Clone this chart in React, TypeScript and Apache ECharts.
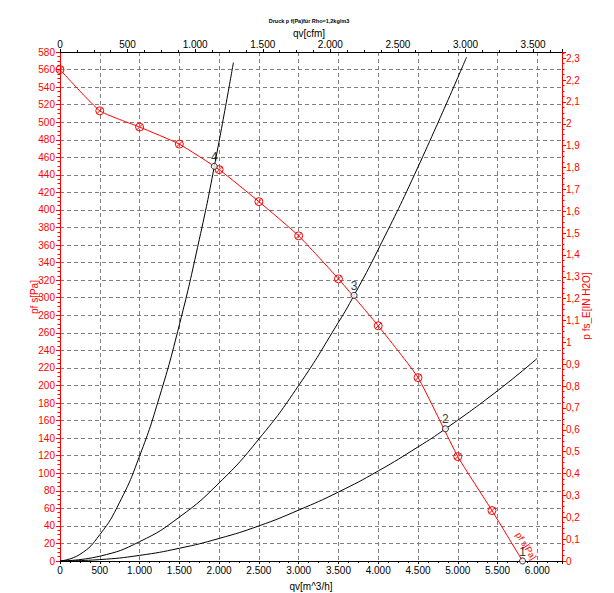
import React, { useEffect, useRef } from "react";
import * as echarts from "echarts";

// Fan curve (red): volume flow [m^3/h] and static pressure [Pa]
const fanQ = [0, 500, 1000, 1500, 2000, 2500, 3000, 3500, 4000, 4500, 5000, 5430, 5814];
const fanP = [560, 513, 494.5, 475, 446, 409.5, 370.5, 321.5, 268, 209, 119, 57.5, 0];

// System curves (black)
const sys4Q = [0, 250, 500, 750, 1000, 1250, 1500, 1750, 1940, 2180];
const sys4P = [0, 7.5, 30, 67, 119.5, 187, 269, 366, 449.7, 568];
const sys3Q = [0, 500, 1000, 1500, 2000, 2500, 3000, 3500, 3696, 4000, 4500, 5110];
const sys3P = [0, 5.5, 22, 50, 89, 139, 200, 272, 302.7, 355, 449, 574];
const sys2Q = [0, 500, 1000, 1500, 2000, 2500, 3000, 3500, 4000, 4500, 4845, 5500, 6000];
const sys2P = [0, 1.6, 6.4, 14.5, 25.7, 40, 58, 78.6, 102.6, 130, 150.6, 194, 231];

// Operating points
const opQ = [5814, 4845, 3696, 1940];
const opP = [0, 150.6, 302.7, 449.7];
const opLabels = ["1", "2", "3", "4"];

// Axis ranges
const qMax = 6310; // m^3/h
const pMax = 580; // Pa
const CFM_PER_M3H = 0.588578;
const INH2O_PER_PA = 1 / 249.089;

const FONT = "Liberation Sans";
const RED = "#ff0000";

const dotSep = (v: number) => {
  const s = Math.round(v).toString();
  return s.replace(/\B(?=(\d{3})+(?!\d))/g, ".");
};

export default function App() {
  const ref = useRef<HTMLDivElement>(null);
  useEffect(() => {
    if (!ref.current) return;
    const chart = echarts.init(ref.current, null, { renderer: "svg" });
    const zip = (a: number[], b: number[]) => a.map((v, i) => [v, b[i]]);
    const markerPath =
      "path://M0,-10A10,10,0,1,1,0,10A10,10,0,1,1,0,-10ZM-7,7L7,-7";
    const blackLine = (q: number[], p: number[]) => ({
      type: "line",
      data: zip(q, p),
      showSymbol: false,
      smooth: true,
      lineStyle: { color: "#000", width: 1 },
      silent: true,
      z: 2,
    });
    chart.setOption({
      animation: false,
      grid: { left: 60, right: 52, top: 52, bottom: 32, containLabel: false },
      xAxis: [
        {
          type: "value",
          position: "bottom",
          min: 0,
          max: qMax,
          interval: 500,
          axisLine: { show: true, lineStyle: { color: "#000", width: 1 } },
          axisTick: { show: true, length: 3, lineStyle: { color: "#000" } },
          minorTick: { show: true, splitNumber: 4, length: 2, lineStyle: { color: "#000" } },
          splitLine: {
            show: true,
            lineStyle: { color: "#808080", type: [4, 3], width: 1 },
          },
          axisLabel: {
            margin: 4,
            fontFamily: FONT,
            fontSize: 10,
            color: "#000",
            formatter: (v: number) => (Math.abs(v % 500) < 1e-6 ? dotSep(v) : ""),
          },
        },
        {
          type: "value",
          position: "top",
          min: 0,
          max: qMax * CFM_PER_M3H,
          interval: 500,
          axisLine: { show: true, onZero: false, lineStyle: { color: "#000", width: 1 } },
          axisTick: { show: true, length: 3, lineStyle: { color: "#000" } },
          minorTick: { show: true, splitNumber: 4, length: 2, lineStyle: { color: "#000" } },
          splitLine: { show: false },
          axisLabel: {
            margin: 3,
            fontFamily: FONT,
            fontSize: 10,
            color: "#000",
            formatter: (v: number) => (Math.abs(v % 500) < 1e-6 ? dotSep(v) : ""),
          },
        },
      ],
      yAxis: [
        {
          type: "value",
          position: "left",
          min: 0,
          max: pMax,
          interval: 20,
          axisLine: { show: true, onZero: false, lineStyle: { color: RED, width: 1 } },
          axisTick: { show: true, length: 4, lineStyle: { color: RED } },
          minorTick: { show: true, splitNumber: 4, length: 2.5, lineStyle: { color: RED } },
          splitLine: {
            show: true,
            lineStyle: { color: "#808080", type: [4, 3], width: 1 },
          },
          axisLabel: {
            margin: 5,
            fontFamily: FONT,
            fontSize: 10,
            color: RED,
          },
        },
        {
          type: "value",
          position: "right",
          min: 0,
          max: pMax * INH2O_PER_PA,
          interval: 0.1,
          axisLine: { show: true, onZero: false, lineStyle: { color: RED, width: 1 } },
          axisTick: { show: true, length: 4, lineStyle: { color: RED } },
          minorTick: { show: true, splitNumber: 4, length: 2.5, lineStyle: { color: RED } },
          splitLine: { show: false },
          axisLabel: {
            margin: 4,
            fontFamily: FONT,
            fontSize: 10,
            color: RED,
            formatter: (v: number) => {
              const t = v * 10;
              if (Math.abs(t - Math.round(t)) > 1e-6) return "";
              return (Math.round(t) / 10).toString().replace(".", ",");
            },
          },
        },
      ],
      graphic: [
        {
          type: "text",
          x: 309,
          y: 21,
          style: {
            text: "Druck p f(Pa)für Rho=1,2kg/m3",
            fontFamily: FONT,
            fontSize: 5.5,
            fontWeight: "bold",
            fill: "#000",
            align: "center",
            verticalAlign: "middle",
          },
        },
        {
          type: "text",
          x: 309,
          y: 33.5,
          style: {
            text: "qv[cfm]",
            fontFamily: FONT,
            fontSize: 10,
            fill: "#000",
            align: "center",
            verticalAlign: "middle",
          },
        },
        {
          type: "text",
          x: 311,
          y: 586,
          style: {
            text: "qv[m^3/h]",
            fontFamily: FONT,
            fontSize: 10,
            fill: "#000",
            align: "center",
            verticalAlign: "middle",
          },
        },
        {
          type: "text",
          x: 34,
          y: 297,
          rotation: Math.PI / 2,
          style: {
            text: "pf s[Pa]",
            fontFamily: FONT,
            fontSize: 10,
            fill: RED,
            align: "center",
            verticalAlign: "middle",
          },
        },
        {
          type: "text",
          x: 586,
          y: 306,
          rotation: Math.PI / 2,
          style: {
            text: "p fs_E[IN H2O]",
            fontFamily: FONT,
            fontSize: 10,
            fill: RED,
            align: "center",
            verticalAlign: "middle",
          },
        },
        {
          type: "text",
          x: 526,
          y: 546,
          rotation: -1.01,
          style: {
            text: "pf s[Pa]",
            fontFamily: FONT,
            fontSize: 9,
            fill: RED,
            align: "center",
            verticalAlign: "middle",
          },
        },
      ],
      series: [
        blackLine(sys4Q, sys4P),
        blackLine(sys3Q, sys3P),
        blackLine(sys2Q, sys2P),
        {
          type: "line",
          data: zip(fanQ, fanP).map((d, i) =>
            i === fanQ.length - 1 ? { value: d, symbol: "none" } : d
          ),
          smooth: 0.15,
          symbol: markerPath,
          symbolKeepAspect: true,
          symbolSize: 8,
          showSymbol: true,
          showAllSymbol: true,
          lineStyle: { color: RED, width: 1 },
          itemStyle: { color: "rgba(0,0,0,0)", borderColor: RED, borderWidth: 1 },
          silent: true,
          z: 3,
        },
        {
          type: "scatter",
          data: opQ.map((q, i) => ({ value: [q, opP[i]], name: opLabels[i] })),
          symbol: "circle",
          symbolSize: 6,
          itemStyle: { color: "#fff", borderColor: "#000", borderWidth: 1 },
          label: {
            show: true,
            position: "top",
            distance: 0,
            formatter: (p: any) => p.name,
            fontFamily: FONT,
            fontSize: 12,
            color: "#000",
          },
          silent: true,
          z: 4,
        },
      ],
    });
    return () => chart.dispose();
  }, []);
  return (
    <div
      ref={ref}
      style={{ position: "fixed", left: 0, top: 0, width: 614, height: 593, background: "#fff" }}
    />
  );
}
